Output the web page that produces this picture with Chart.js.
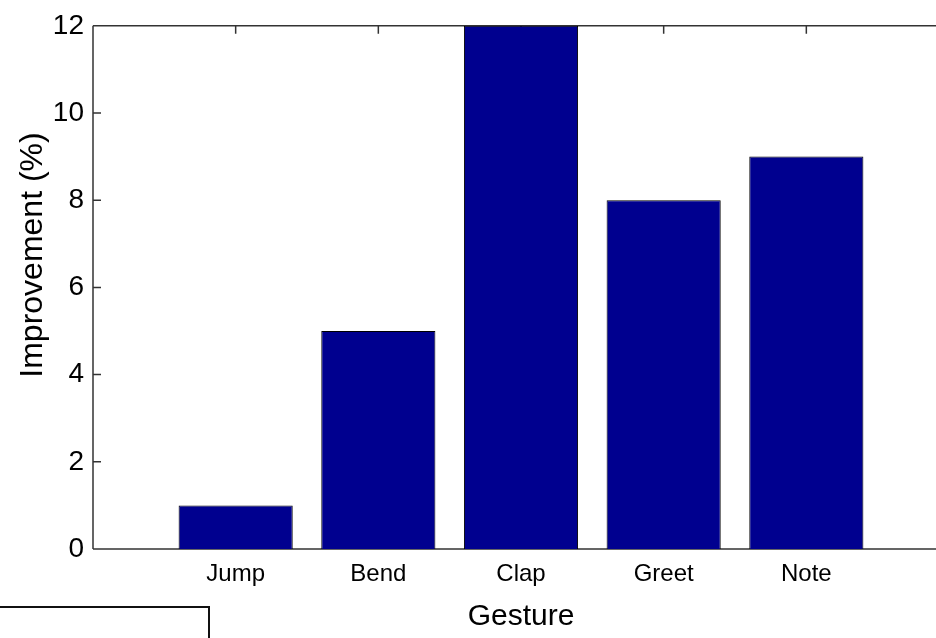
<!DOCTYPE html>
<html>
<head>
<meta charset="utf-8">
<script src="https://cdn.jsdelivr.net/npm/chart.js@4"></script>
<style>
  html, body { margin: 0; padding: 0; background: #fff; overflow: hidden; width: 936px; height: 638px; }
  #wrap { position: relative; width: 960px; height: 638px; }
  #box { position: absolute; left: -3px; top: 606px; width: 213px; height: 60px; border: 2px solid #111; box-sizing: border-box; background: #fff; }
</style>
</head>
<body>
<div id="wrap">
  <canvas id="c" width="960" height="638"></canvas>
  <div id="box"></div>
</div>
<script>
const categories = ['Jump', 'Bend', 'Clap', 'Greet', 'Note'];
const improvement = [1, 5, 12, 8, 9];
const yTicks = [0, 2, 4, 6, 8, 10, 12];
const xTitle = 'Gesture';
const yTitle = 'Improvement (%)';

const labels = [''].concat(categories, ['']);
const data = [null].concat(improvement, [null]);

const FONT = '"Liberation Sans", Arial, Helvetica, sans-serif';
const AXIS = '#333333';

const axesPlugin = {
  id: 'matlabAxes',
  beforeDatasetsDraw(chart) {
    const { ctx, chartArea: a, scales } = chart;
    const x = scales.x, y = scales.y;
    ctx.save();
    ctx.strokeStyle = AXIS;
    ctx.lineWidth = 1.5;
    ctx.beginPath();
    ctx.moveTo(a.left, a.top); ctx.lineTo(a.right, a.top);
    ctx.moveTo(a.left, a.top); ctx.lineTo(a.left, a.bottom);
    ctx.moveTo(a.left, a.bottom); ctx.lineTo(a.right, a.bottom);
    ctx.moveTo(a.right, a.top); ctx.lineTo(a.right, a.bottom);
    const len = 8;
    yTicks.forEach(v => {
      const py = y.getPixelForValue(v);
      ctx.moveTo(a.left, py); ctx.lineTo(a.left + len, py);
      ctx.moveTo(a.right, py); ctx.lineTo(a.right - len, py);
    });
    categories.forEach((c, i) => {
      const px = x.getPixelForValue(i + 1);
      ctx.moveTo(px, a.top); ctx.lineTo(px, a.top + len);
      ctx.moveTo(px, a.bottom); ctx.lineTo(px, a.bottom - len);
    });
    ctx.stroke();
    ctx.restore();
  },
  afterDraw(chart) {
    const { ctx } = chart;
    ctx.save();
    ctx.translate(33, 255);
    ctx.rotate(-Math.PI / 2);
    ctx.fillStyle = '#000';
    ctx.font = '32px ' + FONT;
    ctx.textAlign = 'center';
    ctx.textBaseline = 'middle';
    ctx.fillText(yTitle, 0, 0);
    ctx.restore();
  }
};

new Chart(document.getElementById('c'), {
  type: 'bar',
  data: {
    labels: labels,
    datasets: [{
      data: data,
      backgroundColor: '#00008F',
      borderColor: '#000000',
      borderWidth: 1,
      barPercentage: 0.8,
      categoryPercentage: 1.0
    }]
  },
  options: {
    responsive: false,
    animation: false,
    layout: { padding: { top: 25, left: 0, right: 0, bottom: 0 } },
    plugins: { legend: { display: false }, tooltip: { enabled: false } },
    scales: {
      x: {
        type: 'category',
        offset: false,
        grid: { display: false, drawTicks: false, tickLength: 0 },
        border: { display: false },
        ticks: {
          autoSkip: false, maxRotation: 0, minRotation: 0,
          padding: 11,
          color: '#000',
          font: { family: FONT, size: 24 }
        },
        title: {
          display: true, text: xTitle, color: '#000',
          font: { family: FONT, size: 30 },
          padding: { top: 3, bottom: 3 }
        },
        afterFit(s) { s.height = 89; }
      },
      y: {
        min: 0, max: 12,
        afterBuildTicks(s) { s.ticks = yTicks.map(v => ({ value: v })); },
        grid: { display: false, drawTicks: false, tickLength: 0 },
        border: { display: false },
        ticks: {
          padding: 9,
          color: '#000',
          font: { family: FONT, size: 28 }
        },
        title: { display: false },
        afterFit(s) { s.width = 93; }
      }
    }
  },
  plugins: [axesPlugin]
});
</script>
</body>
</html>
